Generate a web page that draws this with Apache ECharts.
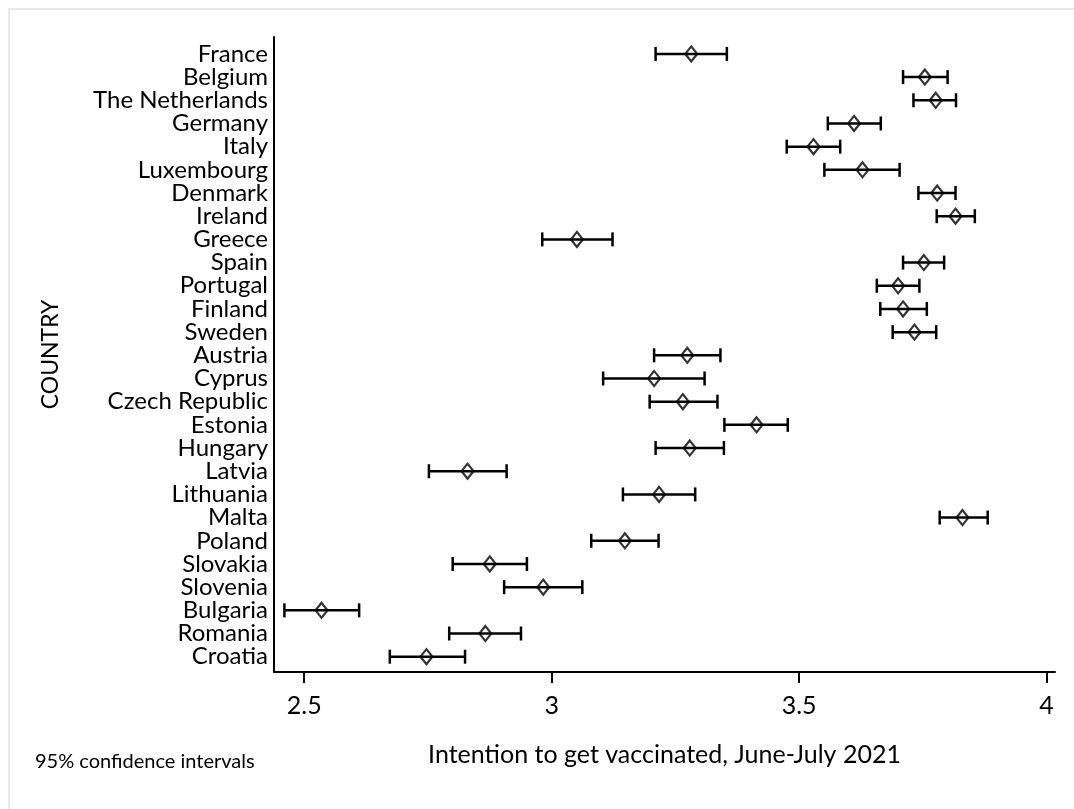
<!DOCTYPE html>
<html>
<head>
<meta charset="utf-8">
<script src="https://cdn.jsdelivr.net/npm/echarts@6/dist/echarts.min.js"></script>
<style>
  html, body { margin: 0; padding: 0; background: #ffffff; }
  #chart { width: 1074px; height: 809px; }
</style>
</head>
<body>
<div id="chart"></div>
<script>
// Countries, listed top to bottom
const countries = [
  'France', 'Belgium', 'The Netherlands', 'Germany', 'Italy', 'Luxembourg',
  'Denmark', 'Ireland', 'Greece', 'Spain', 'Portugal', 'Finland', 'Sweden',
  'Austria', 'Cyprus', 'Czech Republic', 'Estonia', 'Hungary', 'Latvia',
  'Lithuania', 'Malta', 'Poland', 'Slovakia', 'Slovenia', 'Bulgaria',
  'Romania', 'Croatia'
];

// Mean intention to get vaccinated
const meanScore = [
  3.282, 3.754, 3.776, 3.611, 3.529, 3.628,
  3.779, 3.816, 3.051, 3.752, 3.700, 3.710, 3.733,
  3.274, 3.207, 3.265, 3.414, 3.279, 2.830,
  3.217, 3.830, 3.148, 2.875, 2.983, 2.535,
  2.866, 2.747
];

// Lower bound of the 95% confidence interval
const ciLow = [
  3.210, 3.710, 3.731, 3.558, 3.475, 3.551,
  3.741, 3.778, 2.981, 3.710, 3.657, 3.664, 3.689,
  3.207, 3.104, 3.198, 3.349, 3.210, 2.752,
  3.144, 3.784, 3.080, 2.800, 2.904, 2.460,
  2.793, 2.673
];

// Upper bound of the 95% confidence interval
const ciHigh = [
  3.354, 3.800, 3.817, 3.665, 3.583, 3.703,
  3.816, 3.855, 3.123, 3.793, 3.743, 3.758, 3.777,
  3.341, 3.309, 3.335, 3.477, 3.348, 2.909,
  3.290, 3.881, 3.216, 2.950, 3.062, 2.611,
  2.938, 2.825
];

// Tick labels on the horizontal axis
const xTickValues = [2.5, 3, 3.5, 4];

const FONT = 'Lato, "Open Sans", sans-serif';
const INK = '#000000';

const rowIndex = countries.map((_, i) => i);
const evenRows = rowIndex.filter(i => i % 2 === 0);
const oddRows = rowIndex.filter(i => i % 2 === 1);
const intervalRows = countries.map((_, i) => [ciLow[i], ciHigh[i], i]);
const meanRows = countries.map((_, i) => [meanScore[i], i]);

const chart = echarts.init(document.getElementById('chart'), null, { renderer: 'canvas' });

// Horizontal interval with end caps
function renderInterval(params, api) {
  const y = api.value(2);
  const a = api.coord([api.value(0), y]);
  const b = api.coord([api.value(1), y]);
  const cap = 7;
  const style = { stroke: INK, lineWidth: 2.5, fill: null };
  return {
    type: 'group',
    children: [
      { type: 'line', shape: { x1: a[0], y1: a[1], x2: b[0], y2: b[1] }, style: style },
      { type: 'line', shape: { x1: a[0], y1: a[1] - cap, x2: a[0], y2: a[1] + cap }, style: style },
      { type: 'line', shape: { x1: b[0], y1: b[1] - cap, x2: b[0], y2: b[1] + cap }, style: style }
    ]
  };
}

// Country axis; rows are split over two stacked axes so neighbouring
// labels never compete with each other for space
function countryAxis(values, withLine) {
  return {
    type: 'value',
    position: 'left',
    offset: 0,
    inverse: true,
    min: -0.73,
    max: 26.66,
    axisLine: { show: withLine, onZero: false, lineStyle: { color: INK, width: 2 } },
    axisTick: { show: false },
    axisLabel: {
      customValues: values,
      formatter: v => countries[Math.round(v)],
      showMinLabel: true,
      showMaxLabel: true,
      hideOverlap: false,
      fontFamily: FONT, fontSize: 24, color: INK, margin: 6
    },
    splitLine: { show: false }
  };
}

const yMain = countryAxis(evenRows, true);
Object.assign(yMain, {
  name: 'COUNTRY',
  nameLocation: 'middle',
  nameGap: 212,
  nameRotate: 90,
  nameTextStyle: { fontFamily: FONT, fontSize: 23, color: INK }
});
const yAlt = countryAxis(oddRows, false);

const option = {
  animation: false,
  backgroundColor: '#ffffff',
  title: {
    text: '95% confidence intervals',
    left: 35,
    top: 752,
    padding: 0,
    textStyle: { fontFamily: FONT, fontSize: 20, fontWeight: 'normal', color: INK }
  },
  graphic: [{
    type: 'polyline',
    silent: true,
    shape: { points: [[9, 809], [9, 9], [1074, 9]] },
    style: { stroke: '#e6eaed', lineWidth: 2, fill: null }
  }],
  grid: { left: 274, right: 19, top: 37, bottom: 137 },
  xAxis: {
    type: 'value',
    min: 2.439,
    max: 4.017,
    axisLine: { show: true, onZero: false, lineStyle: { color: INK, width: 2 } },
    axisTick: { show: true, customValues: xTickValues, length: 11, lineStyle: { color: INK, width: 2 } },
    axisLabel: {
      customValues: xTickValues,
      formatter: v => String(v),
      fontFamily: FONT, fontSize: 25, color: INK, margin: 21
    },
    splitLine: { show: false },
    name: 'Intention to get vaccinated, June-July 2021',
    nameLocation: 'middle',
    nameGap: 70,
    nameTextStyle: { fontFamily: FONT, fontSize: 25, color: INK }
  },
  yAxis: [yMain, yAlt],
  series: [
    {
      type: 'custom',
      renderItem: renderInterval,
      data: intervalRows,
      encode: { x: [0, 1], y: 2 },
      yAxisIndex: 0,
      silent: true,
      z: 2
    },
    {
      type: 'scatter',
      data: meanRows,
      yAxisIndex: 0,
      symbol: 'diamond',
      symbolSize: [12, 15],
      itemStyle: { color: 'rgba(0,0,0,0)', borderColor: INK, borderWidth: 2.2 },
      silent: true,
      z: 3
    }
  ]
};

chart.setOption(option);
</script>
</body>
</html>
